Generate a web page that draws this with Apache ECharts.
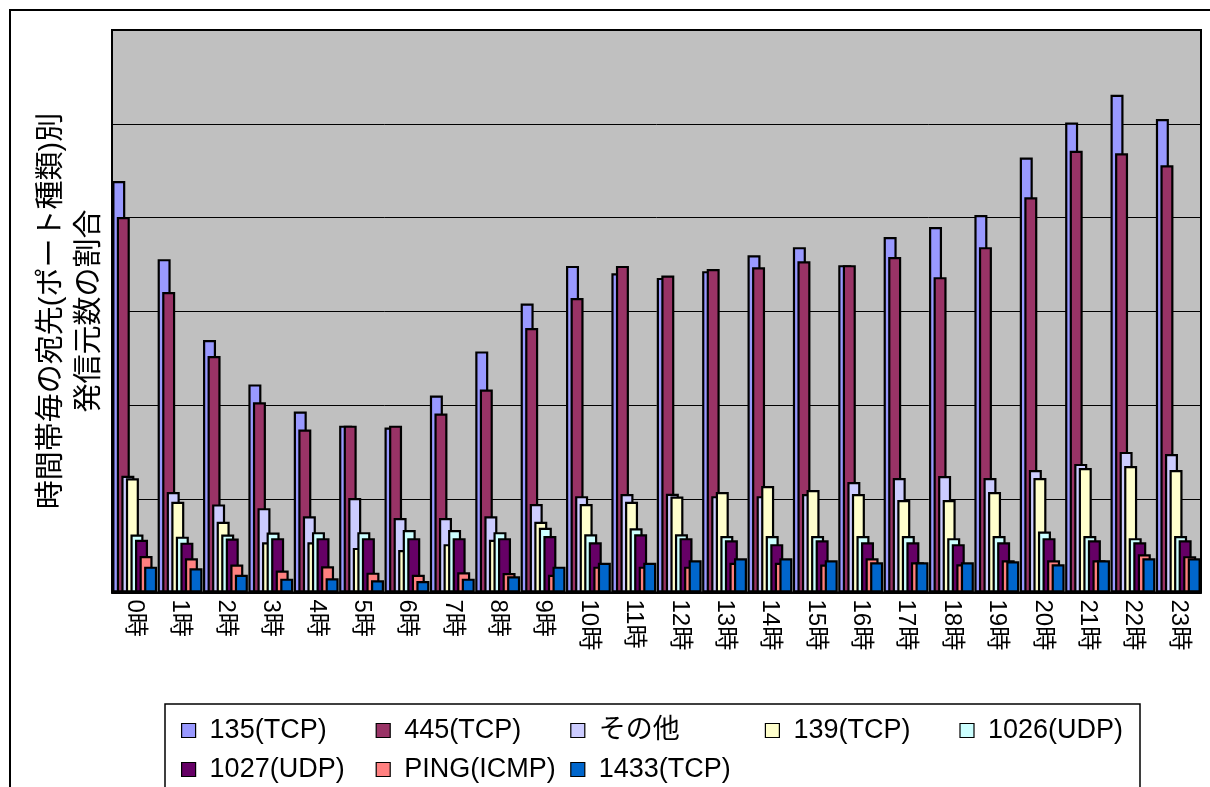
<!DOCTYPE html>
<html>
<head>
<meta charset="utf-8">
<script src="https://cdn.jsdelivr.net/npm/echarts@6/dist/echarts.min.js"></script>
<style>
  html, body { margin: 0; padding: 0; background: #fff; }
  #chart { width: 1210px; height: 787px; }
</style>
</head>
<body>
<div id="chart"></div>
<script>
// Hours of the day
const hours = ['0時','1時','2時','3時','4時','5時','6時','7時','8時','9時','10時','11時',
               '12時','13時','14時','15時','16時','17時','18時','19時','20時','21時','22時','23時'];

// Share of source hosts per destination port (%), by hour
const tcp135   = [21.95,17.78,13.47,11.10,9.65,8.90,8.80,10.51,12.86,15.41,17.42,17.03,16.78,17.14,17.99,18.42,17.46,18.96,19.49,20.13,23.20,25.07,26.55,25.25];
const tcp445   = [20.03,16.03,12.61,10.15,8.69,8.90,8.90,9.55,10.83,14.11,15.71,17.42,16.91,17.25,17.35,17.67,17.46,17.89,16.82,18.42,21.08,23.56,23.43,22.79];
const other    = [6.23,5.36,4.70,4.50,4.07,5.04,3.97,3.97,4.07,4.72,5.14,5.25,5.27,5.14,5.14,5.25,5.89,6.11,6.21,6.11,6.53,6.86,7.50,7.39];
const tcp139   = [6.09,4.84,3.77,2.68,2.68,2.38,2.27,2.58,2.81,3.77,4.72,4.84,5.12,5.36,5.68,5.47,5.25,4.93,4.93,5.36,6.11,6.64,6.75,6.53];
const udp1026  = [3.09,2.98,3.09,3.20,3.22,3.22,3.33,3.33,3.22,3.45,3.11,3.43,3.11,3.01,3.01,3.01,3.01,3.01,2.90,3.01,3.25,3.01,2.90,3.01];
const udp1027  = [2.81,2.66,2.88,2.90,2.90,2.90,2.90,2.90,2.90,3.01,2.68,3.11,2.90,2.79,2.58,2.79,2.68,2.68,2.58,2.68,2.90,2.79,2.68,2.79];
const icmpPing = [1.95,1.83,1.49,1.17,1.40,1.06,0.95,1.08,1.04,0.95,1.38,1.38,1.38,1.59,1.59,1.49,1.83,1.61,1.51,1.72,1.72,1.72,2.04,1.94];
const tcp1433  = [1.38,1.29,0.95,0.74,0.76,0.65,0.61,0.74,0.87,1.38,1.59,1.59,1.72,1.83,1.83,1.72,1.61,1.61,1.61,1.67,1.51,1.72,1.83,1.83];

const seriesNames  = ['135(TCP)','445(TCP)','その他','139(TCP)','1026(UDP)','1027(UDP)','PING(ICMP)','1433(TCP)'];
const seriesData   = [tcp135, tcp445, other, tcp139, udp1026, udp1027, icmpPing, tcp1433];
const seriesColors = ['#9999FF','#993366','#CCCCFF','#FFFFCC','#CCFFFF','#660066','#FF8080','#0066CC'];

const yTitle = '時間帯毎の宛先(ポート種類)別\n発信元数の割合';

const FONT = "'Liberation Sans', Arial, 'Noto Sans CJK JP', sans-serif";

const chart = echarts.init(document.getElementById('chart'), null, { renderer: 'canvas' });

chart.setOption({
  animation: false,
  backgroundColor: '#ffffff',
  textStyle: { fontFamily: FONT },
  grid: {
    left: 112, top: 30, width: 1089, height: 562.5,
    show: true, backgroundColor: '#C0C0C0', borderColor: '#000', borderWidth: 2
  },
  graphic: [
    { type: 'rect', shape: { x: 10, y: 10, width: 1240, height: 820 },
      style: { fill: 'none', stroke: '#000', lineWidth: 2 }, z: -1 },
    { type: 'rect', shape: { x: 165, y: 704, width: 975, height: 120 },
      style: { fill: '#fff', stroke: '#000', lineWidth: 1.5 }, z: -1 },
    { type: 'text', x: 71, y: 311, rotation: Math.PI / 2,
      style: { text: yTitle, font: '29px ' + FONT, fill: '#000',
               align: 'center', verticalAlign: 'middle', lineHeight: 38 } }
  ],
  legend: {
    data: seriesNames,
    left: 176, top: 706, width: 985,
    orient: 'horizontal',
    itemWidth: 14, itemHeight: 14, itemGap: 0,
    icon: 'rect',
    itemStyle: { borderColor: '#000', borderWidth: 1.2 },
    textStyle: { fontSize: 27, color: '#000', fontFamily: FONT,
                 width: 166, height: 39, lineHeight: 39, padding: [0, 0, 0, 9] }
  },
  xAxis: {
    type: 'category',
    data: hours,
    axisLine: { show: true, lineStyle: { color: '#000', width: 2 } },
    axisTick: { show: false },
    axisLabel: { rotate: -90, fontSize: 24, color: '#000', margin: 7, fontFamily: FONT }
  },
  yAxis: {
    type: 'value',
    min: 0, max: 30, interval: 5,
    axisLine: { show: false },
    axisTick: { show: false },
    axisLabel: { show: false },
    splitLine: { show: true, lineStyle: { color: '#000', width: 1 } }
  },
  series: seriesNames.map((name, i) => ({
    name: name,
    type: 'bar',
    data: seriesData[i],
    barWidth: 13,
    barGap: '-65%',
    itemStyle: { color: seriesColors[i], borderColor: '#000', borderWidth: 2.2 }
  }))
});
</script>
</body>
</html>
